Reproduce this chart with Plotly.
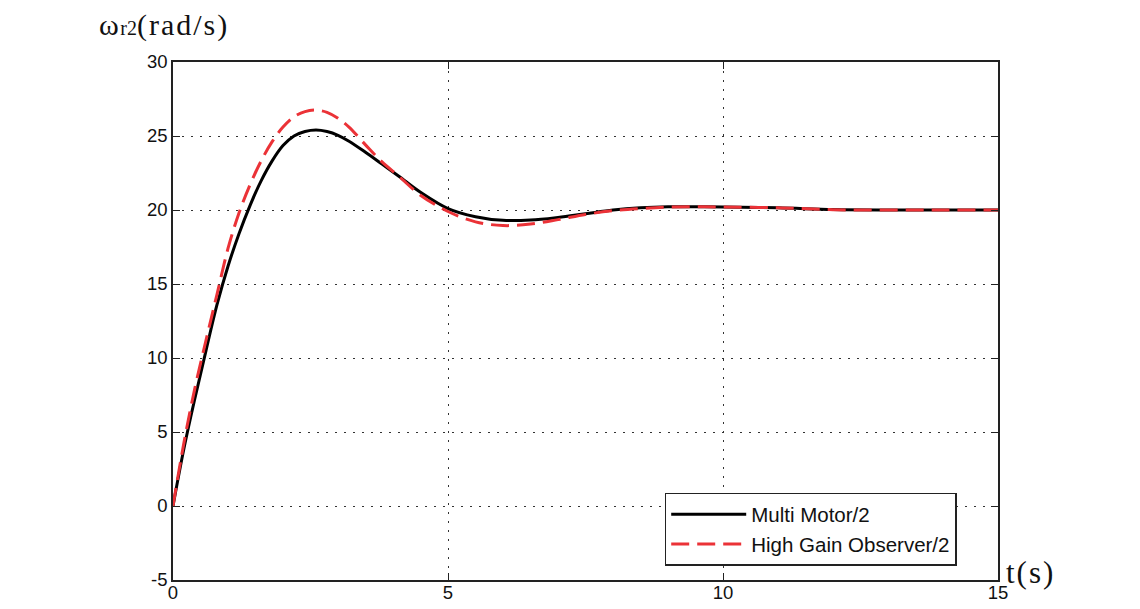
import plotly.graph_objects as go

# Multi Motor/2 (black)
t_black = [0, 0.2, 0.4, 0.6, 0.8, 1.0, 1.2, 1.4, 1.6, 1.8, 2.0, 2.2, 2.4, 2.6, 2.8, 3.0,
           3.2, 3.5, 3.8, 4.1, 4.5, 5.0, 5.5, 6.0, 6.5, 7.0, 7.5, 8.0, 8.5, 9.0, 9.5,
           10.0, 11.0, 12.0, 13.0, 14.0, 15.0]
w_black = [0, 3.9, 7.3, 10.5, 13.6, 16.2, 18.4, 20.3, 21.95, 23.3, 24.35, 25.0, 25.3, 25.4,
           25.3, 25.05, 24.65, 23.9, 23.1, 22.3, 21.2, 20.1, 19.55, 19.3, 19.32, 19.5,
           19.75, 20.0, 20.15, 20.22, 20.22, 20.2, 20.15, 20.03, 20.0, 20.0, 20.0]

# High Gain Observer/2 (red dashed)
t_red = [0, 0.2, 0.4, 0.6, 0.8, 1.0, 1.2, 1.4, 1.6, 1.8, 2.0, 2.2, 2.4, 2.6, 2.8, 3.0,
         3.2, 3.5, 3.8, 4.1, 4.5, 5.0, 5.5, 6.0, 6.5, 7.0, 7.5, 8.0, 8.5, 9.0, 9.5,
         10.0, 11.0, 12.0, 13.0, 14.0, 15.0]
w_red = [0, 4.3, 8.0, 11.2, 14.3, 17.4, 19.8, 21.7, 23.3, 24.6, 25.6, 26.3, 26.65, 26.75,
         26.6, 26.2, 25.6, 24.4, 23.25, 22.3, 21.0, 19.9, 19.2, 18.95, 19.05, 19.35,
         19.7, 19.95, 20.1, 20.2, 20.22, 20.2, 20.15, 20.02, 20.0, 20.0, 20.0]

x_ticks = [0, 5, 10, 15]
x_labels = ["0", "5", "10", "15"]
y_ticks = [-5, 0, 5, 10, 15, 20, 25, 30]
y_labels = ["-5", "0", "5", "10", "15", "20", "25", "30"]

fig = go.Figure()
fig.add_trace(go.Scatter(x=t_black, y=w_black, mode="lines", name="Multi Motor/2",
                         line=dict(color="black", width=3, shape="spline", smoothing=1)))
fig.add_trace(go.Scatter(x=t_red, y=w_red, mode="lines", name="High Gain Observer/2",
                         line=dict(color="rgb(235,50,55)", width=3, dash="18px,8px",
                                   shape="spline", smoothing=1)))

axis_common = dict(showline=True, linecolor="#222", linewidth=1.5, mirror="ticks",
                   ticks="inside", ticklen=7, tickcolor="#222", showgrid=True,
                   gridcolor="#333", gridwidth=1.2, griddash="2px,7px", zeroline=False,
                   tickfont=dict(family="Liberation Sans, Arial", size=18.5, color="#111"))

fig.update_xaxes(range=[0, 15], tickvals=x_ticks, ticktext=x_labels,
                 ticklabelstandoff=-5, **axis_common)
fig.update_yaxes(range=[-5, 30], tickvals=y_ticks, ticktext=y_labels, **axis_common)

# page body has an 8px margin, so the figure is shifted accordingly
L, T, R, B = 165, 54, 134, 29
FW, FH = 1124, 601
W, H = FW - L - R, FH - T - B  # 825 x 518 plot area

fig.update_layout(
    width=FW, height=FH,
    margin=dict(l=L, r=R, t=T, b=B, autoexpand=False),
    paper_bgcolor="white", plot_bgcolor="white",
    showlegend=True,
    legend=dict(x=0.596, y=0.168, xanchor="left", yanchor="top",
                bgcolor="white", bordercolor="#222", borderwidth=1.5,
                font=dict(family="Liberation Sans, Arial", size=20.5, color="#111"),
                itemwidth=75, tracegroupgap=2),
)

# window-pixel positions -> paper coords (plot area spans window x 173..998, y 62..580)
fig.add_annotation(text="<span style='letter-spacing:1.5px'>ω</span>"
                        "<span style='font-size:20px'>r2</span>"
                        "<span style='letter-spacing:2px'>(rad/s)</span>",
                   x=(97 - 173) / W, y=(580 - 25) / H, xref="paper", yref="paper",
                   xanchor="left", yanchor="middle", showarrow=False,
                   font=dict(family="Liberation Serif, Times New Roman", size=30, color="#111"))
fig.add_annotation(text="<span style='letter-spacing:2px'>t(s)</span>",
                   x=(1004 - 173) / W, y=(580 - 572) / H,
                   xref="paper", yref="paper", xanchor="left", yanchor="middle",
                   showarrow=False,
                   font=dict(family="Liberation Serif, Times New Roman", size=31, color="#111"))

fig.write_html("out.html")
